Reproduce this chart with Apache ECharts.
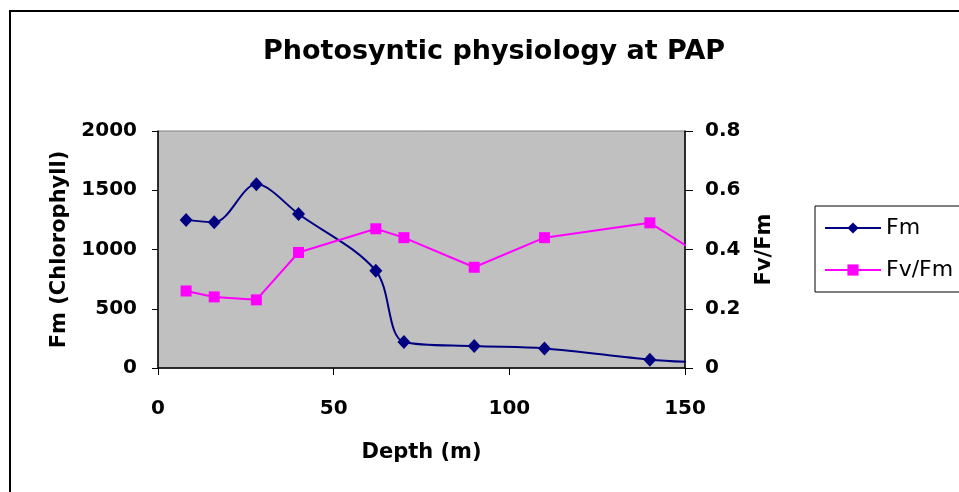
<!DOCTYPE html>
<html>
<head>
<meta charset="utf-8">
<title>Photosyntic physiology at PAP</title>
<script src="https://cdn.jsdelivr.net/npm/echarts@6/dist/echarts.min.js"></script>
<style>
  html, body { margin: 0; padding: 0; background: #ffffff; }
  #chart { width: 959px; height: 492px; }
</style>
</head>
<body>
<div id="chart"></div>
<script>
// Sampling depths (m) shared by both profiles; the last one lies just past the axis end
const depths = [8, 16, 28, 40, 62, 70, 90, 110, 140, 152];
// Maximum fluorescence, Fm (chlorophyll)
const fmValues = [1250, 1230, 1550, 1300, 820, 220, 185, 165, 70, 50];
// Photosynthetic efficiency, Fv/Fm
const fvfmValues = [0.26, 0.24, 0.23, 0.39, 0.47, 0.44, 0.34, 0.44, 0.49, 0.40];
// Axis tick settings
const depthTicks = { min: 0, max: 150, step: 50 };
const fmTicks = { min: 0, max: 2000, step: 500 };
const ratioTicks = { min: 0, max: 0.8, step: 0.2 };

const FONT = 'DejaVu Sans';
const AXIS_MAX_DEPTH = depthTicks.max;

// Build a series' points; points beyond the axis end keep the line but drop the marker
function buildPoints(values) {
  return depths.map((d, i) => {
    const item = { value: [d, values[i]] };
    if (d > AXIS_MAX_DEPTH) item.symbol = 'none';
    return item;
  });
}

// Plain numbers, no thousands separators
const plain = (v) => String(v);

const axisText = { color: '#000', fontFamily: FONT, fontWeight: 'bold', fontSize: 20, formatter: plain };
const nameText = { color: '#000', fontFamily: FONT, fontWeight: 'bold', fontSize: 21 };

const chart = echarts.init(document.getElementById('chart'), null, { renderer: 'canvas' });

chart.setOption({
  backgroundColor: '#ffffff',
  animation: false,
  title: {
    text: 'Photosyntic physiology at PAP',
    left: 489,
    top: 33,
    textAlign: 'center',
    textStyle: { color: '#000', fontFamily: FONT, fontWeight: 'bold', fontSize: 27 }
  },
  graphic: [{
    type: 'rect',
    shape: { x: 10, y: 11, width: 960, height: 500 },
    style: { fill: 'none', stroke: '#000', lineWidth: 2 },
    silent: true,
    z: -1
  }],
  legend: {
    orient: 'vertical',
    left: 815,
    top: 206,
    padding: [11, 16, 11, 9],
    itemGap: 20,
    itemWidth: 56,
    itemHeight: 14,
    backgroundColor: '#ffffff',
    borderColor: '#000',
    borderWidth: 1,
    borderRadius: 0,
    textStyle: { color: '#000', fontFamily: FONT, fontSize: 22, padding: [0, 0, 0, 0] },
    data: ['Fm', 'Fv/Fm']
  },
  grid: {
    left: 158,
    top: 131,
    width: 527,
    height: 237,
    show: true,
    backgroundColor: '#c0c0c0',
    borderColor: '#808080',
    borderWidth: 1
  },
  xAxis: {
    type: 'value',
    min: depthTicks.min,
    max: depthTicks.max,
    interval: depthTicks.step,
    name: 'Depth (m)',
    nameLocation: 'middle',
    nameGap: 74,
    nameTextStyle: nameText,
    axisLine: { lineStyle: { color: '#000', width: 1.5 } },
    axisTick: { show: true, length: 7, lineStyle: { color: '#000' } },
    axisLabel: Object.assign({ margin: 31 }, axisText),
    splitLine: { show: false }
  },
  yAxis: [{
    type: 'value',
    position: 'left',
    min: fmTicks.min,
    max: fmTicks.max,
    interval: fmTicks.step,
    name: 'Fm (Chlorophyll)',
    nameLocation: 'middle',
    nameRotate: 90,
    nameGap: 87,
    nameTextStyle: nameText,
    axisLine: { show: true, lineStyle: { color: '#000', width: 1.5 } },
    axisTick: { show: true, length: 6, lineStyle: { color: '#000' } },
    axisLabel: Object.assign({ margin: 21 }, axisText),
    splitLine: { show: false }
  }, {
    type: 'value',
    position: 'right',
    min: ratioTicks.min,
    max: ratioTicks.max,
    interval: ratioTicks.step,
    name: 'Fv/Fm',
    nameLocation: 'middle',
    nameRotate: 90,
    nameGap: 69,
    nameTextStyle: nameText,
    axisLine: { show: true, lineStyle: { color: '#000', width: 1.5 } },
    axisTick: { show: true, length: 8, lineStyle: { color: '#000' } },
    axisLabel: Object.assign({ margin: 20 }, axisText),
    splitLine: { show: false }
  }],
  series: [{
    name: 'Fm',
    type: 'line',
    yAxisIndex: 0,
    smooth: 0.33,
    clip: false,
    symbol: 'diamond',
    symbolSize: [13, 14],
    color: '#000080',
    lineStyle: { color: '#000080', width: 2 },
    itemStyle: { color: '#000080' },
    data: buildPoints(fmValues),
    z: 2
  }, {
    name: 'Fv/Fm',
    type: 'line',
    yAxisIndex: 1,
    clip: false,
    symbol: 'rect',
    symbolSize: 11,
    color: '#ff00ff',
    lineStyle: { color: '#ff00ff', width: 2 },
    itemStyle: { color: '#ff00ff' },
    data: buildPoints(fvfmValues),
    z: 3
  }]
});
</script>
</body>
</html>
